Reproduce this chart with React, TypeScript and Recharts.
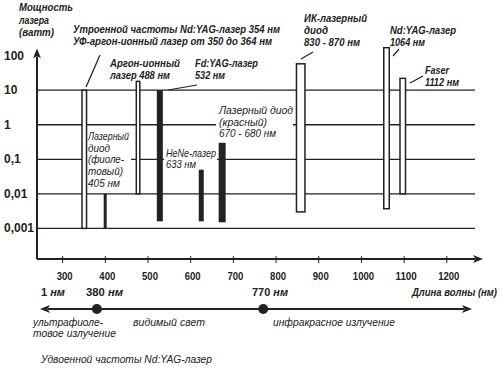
import {
  ComposedChart,
  Bar,
  XAxis,
  YAxis,
  CartesianGrid,
  ReferenceLine,
  ScatterChart,
  Scatter,
} from "recharts";

// лазеры: длина волны (нм) и диапазон мощности (ватт)
const laserNames = [
  "УФ 354",
  "Фиолетовый 405",
  "Аргон 488",
  "Fd:YAG 532",
  "HeNe 633",
  "Красный 670-680",
  "ИК 830-870",
  "Nd:YAG 1064",
  "Faser 1112",
];
const laserWavelengths = [351, 400, 477, 528, 625, 674, 858, 1059, 1097];
const powerMin = [0.001, 0.001, 0.01, 0.0016, 0.0016, 0.0015, 0.003, 0.0037, 0.01];
const powerMax = [10, 0.01, 18, 10, 0.05, 0.3, 58, 170, 22];
const outlined = [true, false, true, false, false, false, true, true, true];

const wavelengthTicks = [300, 400, 500, 600, 700, 800, 900, 1000, 1100, 1200];
const powerTicks = [0.001, 0.01, 0.1, 1, 10, 100];
const powerTickLabels = ["0,001", "0,01", "0,1", "1", "10", "100"];
const powerGridLines = [0.001, 0.01, 0.1, 1, 10];
const spectrumBorders = [380, 770];

// bar widths in px (style only)
const barWidths = [6, 3, 5, 6, 5, 7, 10, 7, 7];

const INK = "#222";
const SANS = "'Liberation Sans', Arial, sans-serif";

const rows = laserNames.map((name, i) => ({
  name,
  nm: laserWavelengths[i],
  power: [powerMin[i], powerMax[i]],
  outlined: outlined[i],
  w: barWidths[i],
}));

const spectrumRows = spectrumBorders.map((nm) => ({ nm, level: 0 }));

// annotation text: each line is [text, width in px] (the source font is condensed)
type Note = {
  x: number;
  y: number;
  lines: [string, number][];
  lh?: number;
  size?: number;
  bold?: boolean;
  box?: [number, number, number, number];
};

const notes: Note[] = [
  {
    x: 19,
    y: 11,
    lines: [
      ["Мощность", 54],
      ["лазера", 30],
      ["(ватт)", 35],
    ],
    lh: 12.5,
    size: 11,
    bold: true,
  },
  {
    x: 73,
    y: 33,
    lines: [
      ["Утроенной частоты Nd:YAG-лазер 354 нм", 207],
      ["УФ-аргон-ионный лазер от 350 до 364 нм", 199],
    ],
    lh: 12,
    size: 10.5,
    bold: true,
  },
  {
    x: 110,
    y: 67,
    lines: [
      ["Аргон-ионный", 70],
      ["лазер 488 нм", 60],
    ],
    lh: 12,
    size: 11.5,
    bold: true,
  },
  {
    x: 195,
    y: 67,
    lines: [
      ["Fd:YAG-лазер", 63],
      ["532 нм", 30],
    ],
    lh: 12,
    size: 11.5,
    bold: true,
  },
  {
    x: 304,
    y: 22,
    lines: [
      ["ИК-лазерный", 63],
      ["диод", 24],
      ["830 - 870 нм", 56],
    ],
    lh: 12,
    size: 11.5,
    bold: true,
  },
  {
    x: 390,
    y: 34,
    lines: [
      ["Nd:YAG-лазер", 66],
      ["1064 нм", 35],
    ],
    lh: 12,
    size: 11.5,
    bold: true,
  },
  {
    x: 425,
    y: 74,
    lines: [
      ["Faser", 24],
      ["1112 нм", 34],
    ],
    lh: 11.5,
    size: 11.5,
    bold: true,
  },
  {
    x: 219,
    y: 114,
    lines: [
      ["Лазерный диод", 74],
      ["(красный)", 48],
      ["670 - 680 нм", 57],
    ],
    lh: 11.5,
    size: 10.5,
    box: [216, 103, 77, 36],
  },
  {
    x: 166,
    y: 157,
    lines: [
      ["HeNe-лазер", 50],
      ["633 нм", 30],
    ],
    lh: 11,
    size: 10.5,
    box: [164, 147, 53, 24],
  },
  {
    x: 88,
    y: 140,
    lines: [
      ["Лазерный", 41],
      ["диод", 22],
      ["(фиоле-", 36],
      ["товый)", 35],
      ["405 нм", 32],
    ],
    lh: 11.7,
    size: 10.5,
    box: [87, 129, 44, 61],
  },
  {
    x: 33,
    y: 326,
    lines: [
      ["ультрафиоле-", 70],
      ["товое излучение", 83],
    ],
    lh: 10.5,
    size: 10.5,
  },
  { x: 133, y: 326, lines: [["видимый свет", 72]], size: 10.5 },
  { x: 273, y: 326, lines: [["инфракрасное излучение", 122]], size: 10.5 },
  { x: 41, y: 363, lines: [["Удвоенной частоты Nd:YAG-лазер", 171]], size: 10.5 },
  { x: 412, y: 296, lines: [["Длина волны (нм)", 85]], size: 10, bold: true },
];

const leaders = [
  [100, 55, 86, 87],
  [197, 85, 168, 90],
  [313, 52, 301, 59],
  [399, 49, 393, 56],
  [423, 76, 410, 83],
];

const scaleLabels = [
  { x: 41, num: "1", w: 24 },
  { x: 86, num: "380", w: 37 },
  { x: 252, num: "770", w: 36 },
];

const Notes = () => (
  <g>
    {notes.map((n, i) => (
      <g key={i}>
        {n.box && <rect x={n.box[0]} y={n.box[1]} width={n.box[2]} height={n.box[3]} fill="#fff" />}
        {n.lines.map(([line, w], j) => (
          <text
            key={j}
            x={n.x}
            y={n.y + j * (n.lh ?? 12)}
            textLength={w}
            lengthAdjust="spacingAndGlyphs"
            fontFamily={SANS}
            fontSize={n.size ?? 11}
            fontStyle="italic"
            fontWeight={n.bold ? "bold" : "normal"}
            fill={INK}
          >
            {line}
          </text>
        ))}
      </g>
    ))}
    {leaders.map(([x1, y1, x2, y2], i) => (
      <line key={i} x1={x1} y1={y1} x2={x2} y2={y2} stroke={INK} strokeWidth={1.2} />
    ))}
    {scaleLabels.map((s, i) => (
      <text
        key={i}
        x={s.x}
        y={296}
        textLength={s.w}
        lengthAdjust="spacingAndGlyphs"
        fontFamily={SANS}
        fontSize={10.5}
        fontWeight="bold"
        fill={INK}
      >
        {s.num}
        <tspan fontStyle="italic"> нм</tspan>
      </text>
    ))}
  </g>
);

const Arrow = ({ id }: { id: string }) => (
  <defs>
    <marker
      id={id}
      viewBox="0 0 10 8"
      markerWidth={10}
      markerHeight={8}
      refX={2}
      refY={4}
      orient="auto-start-reverse"
      markerUnits="userSpaceOnUse"
    >
      <path d="M0,0 L10,4 L0,8 L2.5,4 Z" fill={INK} />
    </marker>
  </defs>
);

const XTick = (p: any) => {
  const label = String(p.payload.value);
  return (
    <g>
      <line x1={p.x} x2={p.x} y1={p.y - 3} y2={p.y + 4} stroke={INK} strokeWidth={1} />
      <text
        x={p.x + 2}
        y={p.y + 21}
        textAnchor="middle"
        textLength={label.length * 5.3}
        lengthAdjust="spacingAndGlyphs"
        fontFamily={SANS}
        fontSize={11}
        fontWeight="bold"
        fill={INK}
      >
        {label}
      </text>
    </g>
  );
};

const YTick = (p: any) => (
  <text x={4} y={p.y + 4} fontFamily={SANS} fontSize={12} fontWeight="bold" fill={INK}>
    {powerTickLabels[powerTicks.indexOf(p.payload.value)]}
  </text>
);

const LaserBar = (p: any) => {
  const { x, y, width, height, payload } = p;
  const w = payload.w;
  const cx = x + width / 2;
  if (payload.outlined) {
    return (
      <rect
        x={cx - w / 2 + 0.75}
        y={y}
        width={w - 1.5}
        height={height}
        fill="#fff"
        stroke={INK}
        strokeWidth={1.5}
      />
    );
  }
  return <rect x={cx - w / 2} y={y} width={w} height={height} fill={INK} />;
};

export default function App() {
  return (
    <div
      style={{
        position: "absolute",
        left: 0,
        top: 0,
        width: 503,
        height: 371,
        background: "#fff",
      }}
    >
      <ComposedChart
        width={503}
        height={371}
        data={rows}
        margin={{ top: 46, right: 28, bottom: 0, left: 0 }}
      >
        <Arrow id="arrowMain" />
        <CartesianGrid
          vertical={false}
          horizontalValues={powerGridLines}
          stroke={INK}
          strokeWidth={1.3}
        />
        <XAxis
          dataKey="nm"
          type="number"
          domain={[240, 1266]}
          allowDataOverflow
          ticks={wavelengthTicks}
          height={112}
          tickSize={0}
          tickMargin={0}
          tickLine={false}
          tick={<XTick />}
          axisLine={{ stroke: INK, strokeWidth: 2, markerEnd: "url(#arrowMain)" }}
        />
        <YAxis
          scale="log"
          domain={[0.00013, 190]}
          allowDataOverflow
          ticks={powerTicks}
          width={37}
          axisLine={false}
          tickLine={false}
          tick={<YTick />}
        />
        <Notes />
        <ReferenceLine
          segment={[
            { x: 240, y: 0.00013 },
            { x: 240, y: 95 },
          ]}
          stroke={INK}
          strokeWidth={2}
          markerEnd="url(#arrowMain)"
          ifOverflow="visible"
        />
        <Bar
          dataKey="power"
          barSize={10}
          shape={<LaserBar />}
          isAnimationActive={false}
        />
      </ComposedChart>
      <div style={{ position: "absolute", left: 0, top: 290 }}>
        <ScatterChart
          width={503}
          height={30}
          data={spectrumRows}
          margin={{ top: 4, right: 39, bottom: 0, left: 48 }}
        >
          <Arrow id="arrowSpec" />
          <XAxis
            dataKey="nm"
            type="number"
            domain={[265.5, 1240.5]}
            allowDataOverflow
            height={11}
            tick={false}
            tickLine={false}
            axisLine={{
              stroke: INK,
              strokeWidth: 2,
              markerStart: "url(#arrowSpec)",
              markerEnd: "url(#arrowSpec)",
            }}
          />
          <YAxis dataKey="level" hide domain={[0, 1]} />
          <Scatter
            data={spectrumRows}
            isAnimationActive={false}
            shape={(p: any) => <circle cx={p.cx} cy={p.cy} r={5} fill={INK} />}
          />
        </ScatterChart>
      </div>
    </div>
  );
}
